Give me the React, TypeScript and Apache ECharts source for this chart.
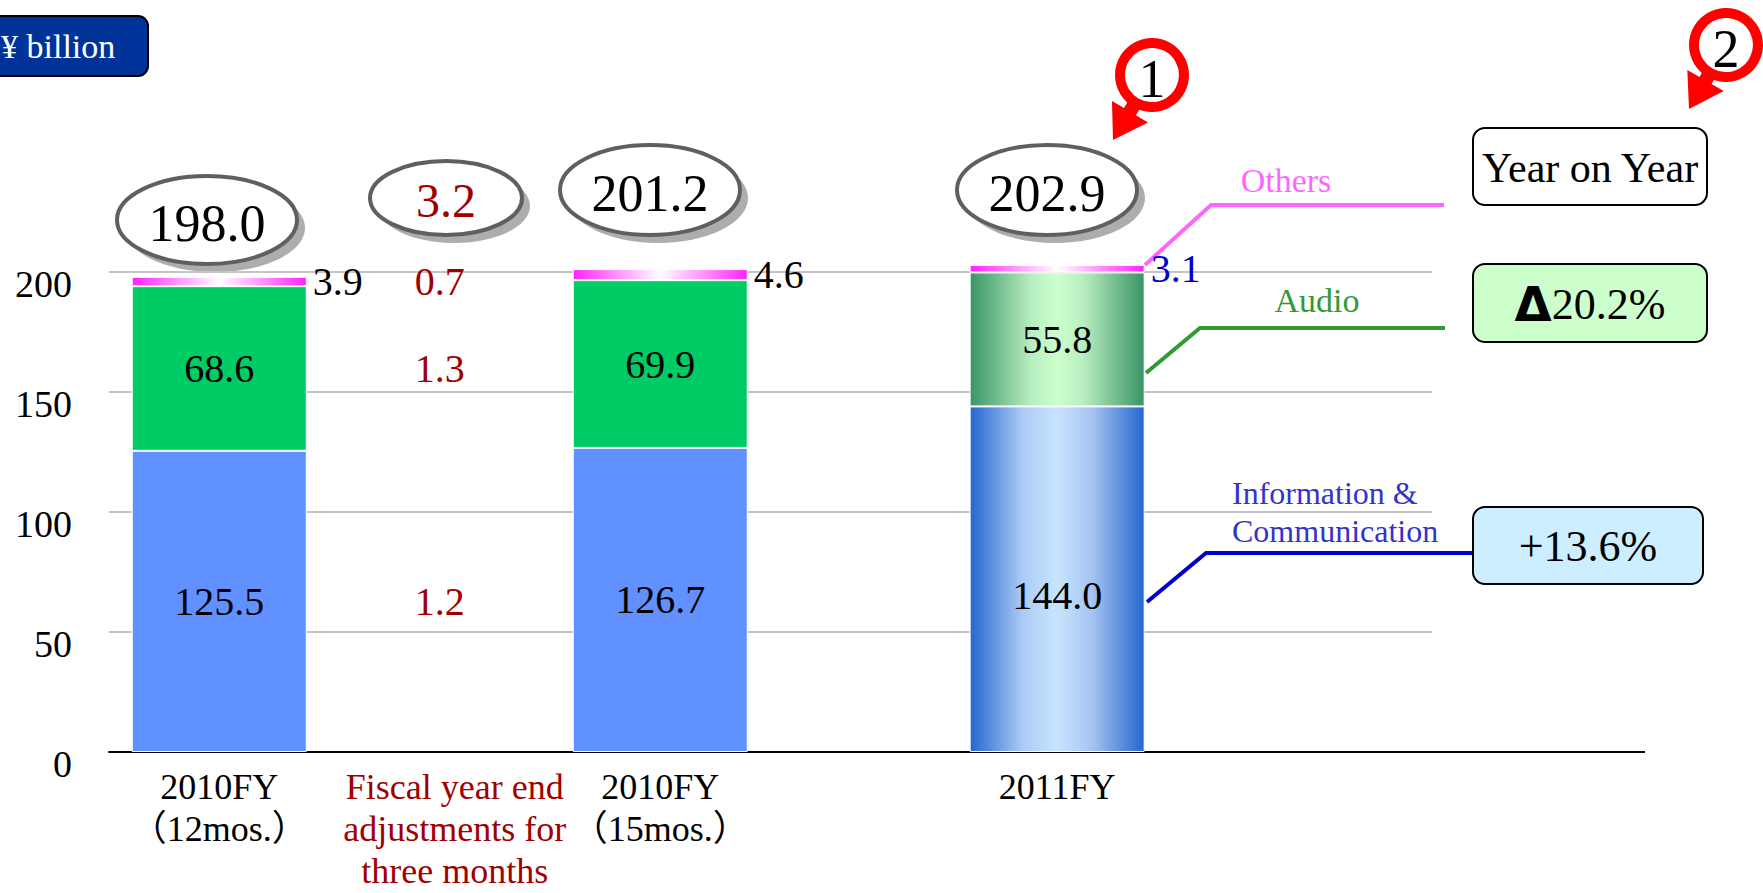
import React, { useEffect, useRef } from 'react';
import * as echarts from 'echarts';

// ---------------- data ----------------
const categories = [
  '2010FY\n（12mos.）',
  'Fiscal year end\nadjustments for\nthree months',
  '2010FY\n（15mos.）',
  '2011FY',
];
const infoComm = [125.5, 1.2, 126.7, 144.0];
const audio = [68.6, 1.3, 69.9, 55.8];
const others = [3.9, 0.7, 4.6, 3.1];
const totals = [198.0, 3.2, 201.2, 202.9];
const segmentNames = ['Information &\nCommunication', 'Audio', 'Others'];
const yoyHeader = 'Year on Year';
const yoyAudio = '20.2%';
const yoyInfo = '+13.6%';
const unitLabel = '¥ billion';
const markers = ['1', '2'];

// ---------------- layout ----------------
const FONT = "'Liberation Serif', 'Times New Roman', 'Noto Sans CJK JP', serif";
const ADJ = 1; // adjustments column (labels only, placed alongside the 12-month column)
const SLOT_COUNT = 30;
const SLOT_OF = [2, 7, 12, 21];
const DARK_RED = '#a00000';

const hGrad = (stops: [number, string][]) => ({
  type: 'linear', x: 0, y: 0, x2: 1, y2: 0,
  colorStops: stops.map(([offset, color]) => ({ offset, color })),
});
const pinkGrad = hGrad([[0, '#ff22ff'], [0.5, '#ffffff'], [1, '#ff22ff']]);
const blueGrad = hGrad([[0, '#2466d0'], [0.3, '#aacbf6'], [0.5, '#c8e4ff'], [0.7, '#a6c4f0'], [1, '#2466d0']]);
const greenGrad = hGrad([[0, '#3a9466'], [0.35, '#b8eec0'], [0.5, '#ccffcc'], [0.65, '#b8eec0'], [1, '#3a9466']]);

function buildSeriesData(values: number[], spacer: number, opts: { flat: any; last: any; lastLabel?: any }) {
  const arr: any[] = new Array(SLOT_COUNT).fill(null);
  values.forEach((v, i) => {
    const slot = SLOT_OF[i];
    if (i === ADJ) {
      // invisible spacer follows the 12-month column so the adjustment figure sits at the same height
      arr[slot] = {
        value: spacer,
        itemStyle: { color: 'rgba(0,0,0,0)', borderWidth: 0 },
        label: { show: true, position: 'inside', color: DARK_RED, formatter: () => v.toFixed(1) },
      };
    } else if (i === 3) {
      arr[slot] = { value: v, itemStyle: { color: opts.last }, label: opts.lastLabel };
    } else {
      arr[slot] = { value: v, itemStyle: { color: opts.flat } };
    }
  });
  return arr;
}

function arrowPoints(cx: number, cy: number, tx: number, ty: number) {
  const dx = tx - cx, dy = ty - cy;
  const L = Math.hypot(dx, dy);
  const ux = dx / L, uy = dy / L;
  const px = -uy, py = ux;
  const headLen = 33, headHalf = 21, shaftHalf = 7;
  const bx = tx - ux * headLen, by = ty - uy * headLen;
  return [
    [cx + px * shaftHalf, cy + py * shaftHalf],
    [bx + px * shaftHalf, by + py * shaftHalf],
    [bx + px * headHalf, by + py * headHalf],
    [tx, ty],
    [bx - px * headHalf, by - py * headHalf],
    [bx - px * shaftHalf, by - py * shaftHalf],
    [cx - px * shaftHalf, cy - py * shaftHalf],
  ];
}

function ellipseBadge(cx: number, cy: number, rx: number, ry: number, text: string, color: string, fontSize: number, ty: number) {
  return [
    { type: 'ellipse', shape: { cx: cx + 8, cy: cy + 8, rx, ry }, style: { fill: '#adadad' } },
    { type: 'ellipse', shape: { cx, cy, rx, ry }, style: { fill: '#ffffff', stroke: '#5f5f5f', lineWidth: 4 } },
    {
      type: 'text', x: cx, y: ty,
      style: { text, fill: color, font: `${fontSize}px ${FONT}`, align: 'center', verticalAlign: 'middle' },
    },
  ];
}

function markerCircle(cx: number, cy: number, tx: number, ty: number, label: string, textY: number) {
  return [
    { type: 'polygon', shape: { points: arrowPoints(cx, cy, tx, ty) }, style: { fill: '#ff0000' } },
    { type: 'circle', shape: { cx, cy, r: 32 }, style: { fill: '#ffffff', stroke: '#ff0000', lineWidth: 10 } },
    {
      type: 'text', x: cx, y: textY,
      style: { text: label, fill: '#000', font: `54px ${FONT}`, align: 'center', verticalAlign: 'middle' },
    },
  ];
}

function yoyBox(x: number, y: number, w: number, h: number, fill: string, text: string, fontSize: number, rich?: any) {
  return [
    { type: 'rect', shape: { x, y, width: w, height: h, r: 12 }, style: { fill, stroke: '#000', lineWidth: 2 } },
    {
      type: 'text', x: x + w / 2, y: y + h / 2 + 1,
      style: { text, fill: '#000', font: `${fontSize}px ${FONT}`, align: 'center', verticalAlign: 'middle', rich },
    },
  ];
}

export default function App() {
  const ref = useRef<HTMLDivElement>(null);
  useEffect(() => {
    const chart = echarts.init(ref.current!, null, { renderer: 'svg' });

    const axisData = new Array(SLOT_COUNT).fill(0).map(() => ({ value: '' } as any));
    categories.forEach((c, i) => {
      axisData[SLOT_OF[i]] = {
        value: c,
        textStyle: i === ADJ ? { color: DARK_RED, padding: [0, 0, 0, 30] } : {},
      };
    });

    const labelBase = { show: true, position: 'inside', fontSize: 40, fontFamily: FONT, color: '#000', formatter: (p: any) => Number(p.value).toFixed(1) };

    const graphic: any[] = [
      // axis line continuation to the right of the plot
      { type: 'line', shape: { x1: 1432, y1: 752, x2: 1645, y2: 752 }, style: { stroke: '#000', lineWidth: 2 } },
      // unit box
      { type: 'rect', shape: { x: -12, y: 16, width: 160, height: 60, r: 10 }, style: { fill: '#003399', stroke: '#000', lineWidth: 2 } },
      { type: 'text', x: 1, y: 46, style: { text: unitLabel, fill: '#fff', font: `34px ${FONT}`, align: 'left', verticalAlign: 'middle' } },
      // totals
      ...ellipseBadge(207, 220, 90, 44, totals[0].toFixed(1), '#000', 52, 223),
      ...ellipseBadge(446, 198, 76, 37, totals[1].toFixed(1), DARK_RED, 48, 200),
      ...ellipseBadge(650, 190, 90, 45, totals[2].toFixed(1), '#000', 52, 193),
      ...ellipseBadge(1047, 190, 90, 45, totals[3].toFixed(1), '#000', 52, 193),
      // markers
      ...markerCircle(1152, 75, 1113, 140, markers[0], 79),
      ...markerCircle(1726, 45, 1689, 109, markers[1], 49),
      // connector lines
      { type: 'polyline', shape: { points: [[1145, 265], [1211, 205], [1444, 205]] }, style: { stroke: '#ff66ff', lineWidth: 4, fill: null } },
      { type: 'polyline', shape: { points: [[1146, 373], [1200, 328], [1445, 328]] }, style: { stroke: '#339933', lineWidth: 4, fill: null } },
      { type: 'polyline', shape: { points: [[1147, 602], [1206, 553], [1473, 553]] }, style: { stroke: '#0000cc', lineWidth: 4, fill: null } },
      // segment names
      { type: 'text', x: 1286, y: 180, style: { text: segmentNames[2], fill: '#ff66ff', font: `34px ${FONT}`, align: 'center', verticalAlign: 'middle' } },
      { type: 'text', x: 1317, y: 300, style: { text: segmentNames[1], fill: '#339933', font: `34px ${FONT}`, align: 'center', verticalAlign: 'middle' } },
      { type: 'text', x: 1232, y: 512, style: { text: segmentNames[0], fill: '#3333cc', font: `32px ${FONT}`, lineHeight: 38, align: 'left', verticalAlign: 'middle' } },
      // year-on-year boxes
      ...yoyBox(1473, 128, 234, 77, '#ffffff', yoyHeader, 42),
      ...yoyBox(1473, 264, 234, 78, '#ccffcc', `{t|Δ}${yoyAudio}`, 44, {
        t: { fontFamily: "'DejaVu Sans', sans-serif", fontWeight: 'bold', fontSize: 48, fill: '#000' },
      }),
      ...yoyBox(1473, 507, 230, 77, '#cdeeff', yoyInfo, 44),
    ];

    chart.setOption({
      animation: false,
      backgroundColor: '#ffffff',
      grid: { left: 109, right: 331, top: 272, bottom: 141, containLabel: false, outerBoundsMode: 'none' },
      xAxis: {
        type: 'category',
        data: axisData,
        axisLine: { lineStyle: { color: '#000', width: 2 } },
        axisTick: { show: false },
        axisLabel: {
          interval: 0, margin: 14, fontSize: 36, lineHeight: 42, fontFamily: FONT, color: '#000', hideOverlap: false,
          verticalAlign: 'top',
        },
        splitLine: { show: false },
      },
      yAxis: {
        type: 'value', min: 0, max: 200, interval: 50,
        axisLine: { show: false },
        axisTick: { show: false },
        axisLabel: { fontSize: 38, fontFamily: FONT, color: '#000', margin: 37, verticalAlign: 'top', lineHeight: 24 },
        splitLine: { lineStyle: { color: '#c4c4c4', width: 2 } },
      },
      series: [
        {
          name: 'Information & Communication', type: 'bar', stack: 'total', barWidth: 175, clip: false,
          itemStyle: { borderColor: '#ffffff', borderWidth: 1 },
          label: labelBase,
          data: buildSeriesData(infoComm, infoComm[0], { flat: '#6190ff', last: blueGrad, lastLabel: { offset: [0, 16] } }),
        },
        {
          name: 'Audio', type: 'bar', stack: 'total', barWidth: 175, clip: false,
          itemStyle: { borderColor: '#ffffff', borderWidth: 1 },
          label: labelBase,
          data: buildSeriesData(audio, audio[0], { flat: '#00cc66', last: greenGrad }),
        },
        {
          name: 'Others', type: 'bar', stack: 'total', barWidth: 175, clip: false,
          itemStyle: { borderColor: '#ffffff', borderWidth: 1 },
          label: { ...labelBase, position: 'right', distance: 6 },
          data: buildSeriesData(others, others[0], { flat: pinkGrad, last: pinkGrad, lastLabel: { color: '#0000cc' } }),
        },
      ],
      graphic,
    } as any);

    return () => chart.dispose();
  }, []);

  return (
    <div
      ref={ref}
      style={{ position: 'fixed', left: 0, top: 0, width: 1763, height: 893, background: '#fff' }}
    />
  );
}
